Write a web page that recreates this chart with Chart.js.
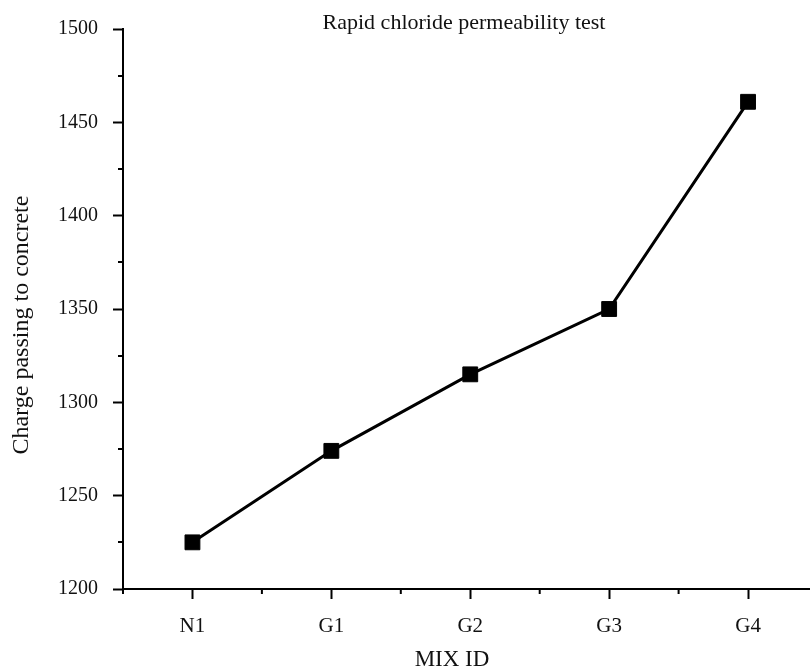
<!DOCTYPE html>
<html>
<head>
<meta charset="utf-8">
<title>Rapid chloride permeability test</title>
<script src="https://cdn.jsdelivr.net/npm/chart.js"></script>
<style>
  html, body { margin: 0; padding: 0; background: #fff; overflow: hidden; }
  #wrap { position: relative; width: 829px; height: 670px; }
</style>
</head>
<body>
<div id="wrap"><canvas id="chart"></canvas></div>
<script>
// Data
const mixIds = ['N1', 'G1', 'G2', 'G3', 'G4'];
const chargeValues = [1225, 1274, 1315, 1350, 1461];
const yTicks = [1200, 1250, 1300, 1350, 1400, 1450, 1500];
const yMinorTicks = [1225, 1275, 1325, 1375, 1425, 1475];

const serif = 'Liberation Serif';

// Titles and the small minor ticks on both axes
const extrasPlugin = {
  id: 'extras',
  afterDraw(chart) {
    const ctx = chart.ctx;
    const area = chart.chartArea;
    const x = chart.scales.x;
    const y = chart.scales.y;
    ctx.save();
    ctx.strokeStyle = '#000';
    ctx.lineWidth = 2;

    // y minor ticks
    yMinorTicks.forEach(v => {
      const py = Math.round(y.getPixelForValue(v));
      ctx.beginPath();
      ctx.moveTo(area.left - 5, py);
      ctx.lineTo(area.left, py);
      ctx.stroke();
    });

    // x minor ticks, halfway between categories
    for (let i = -1; i < mixIds.length; i++) {
      const px = i < 0 ? area.left : (x.getPixelForValue(i) + x.getPixelForValue(i + 1)) / 2;
      if (px > area.right) continue;
      ctx.beginPath();
      ctx.moveTo(px, area.bottom);
      ctx.lineTo(px, area.bottom + 5);
      ctx.stroke();
    }

    ctx.fillStyle = '#111';
    ctx.textAlign = 'center';
    ctx.textBaseline = 'middle';

    // chart title
    ctx.font = '22px "' + serif + '"';
    ctx.fillText('Rapid chloride permeability test', 464, 23);

    // x axis title
    ctx.font = '23px "' + serif + '"';
    ctx.fillText('MIX ID', 452, 660);

    // y axis title
    ctx.translate(22, 325);
    ctx.rotate(-Math.PI / 2);
    ctx.font = '24px "' + serif + '"';
    ctx.fillText('Charge passing to concrete', 0, 0);
    ctx.restore();
  }
};

new Chart(document.getElementById('chart'), {
  type: 'line',
  data: {
    labels: mixIds,
    datasets: [{
      label: 'Charge passing to concrete',
      data: chargeValues,
      borderColor: '#000',
      backgroundColor: '#000',
      borderWidth: 3,
      pointStyle: 'rect',
      pointRadius: 10.5,
      pointBorderWidth: 1,
      pointBackgroundColor: '#000',
      pointBorderColor: '#000',
      tension: 0,
      fill: false
    }]
  },
  options: {
    responsive: true,
    maintainAspectRatio: false,
    animation: false,
    layout: {
      padding: { top: 29, right: 0, bottom: 0, left: 0 }
    },
    plugins: {
      legend: { display: false },
      tooltip: { enabled: false }
    },
    scales: {
      x: {
        type: 'category',
        offset: true,
        grid: {
          drawOnChartArea: false,
          drawTicks: true,
          tickLength: 10,
          tickWidth: 2,
          tickColor: '#000'
        },
        border: { display: true, color: '#000', width: 2 },
        ticks: {
          color: '#111',
          padding: 15,
          font: { family: serif, size: 21 }
        },
        afterFit(scale) { scale.height = 81; }
      },
      y: {
        min: 1200,
        max: 1500,
        grid: {
          drawOnChartArea: false,
          drawTicks: true,
          tickLength: 10,
          tickWidth: 2,
          tickColor: '#000'
        },
        border: { display: true, color: '#000', width: 2 },
        afterBuildTicks(scale) {
          scale.ticks = yTicks.map(v => ({ value: v }));
        },
        ticks: {
          color: '#111',
          padding: 15,
          font: { family: serif, size: 20 },
          callback: v => String(v)
        },
        afterFit(scale) { scale.width = 123; }
      }
    }
  },
  plugins: [extrasPlugin]
});
</script>
</body>
</html>
